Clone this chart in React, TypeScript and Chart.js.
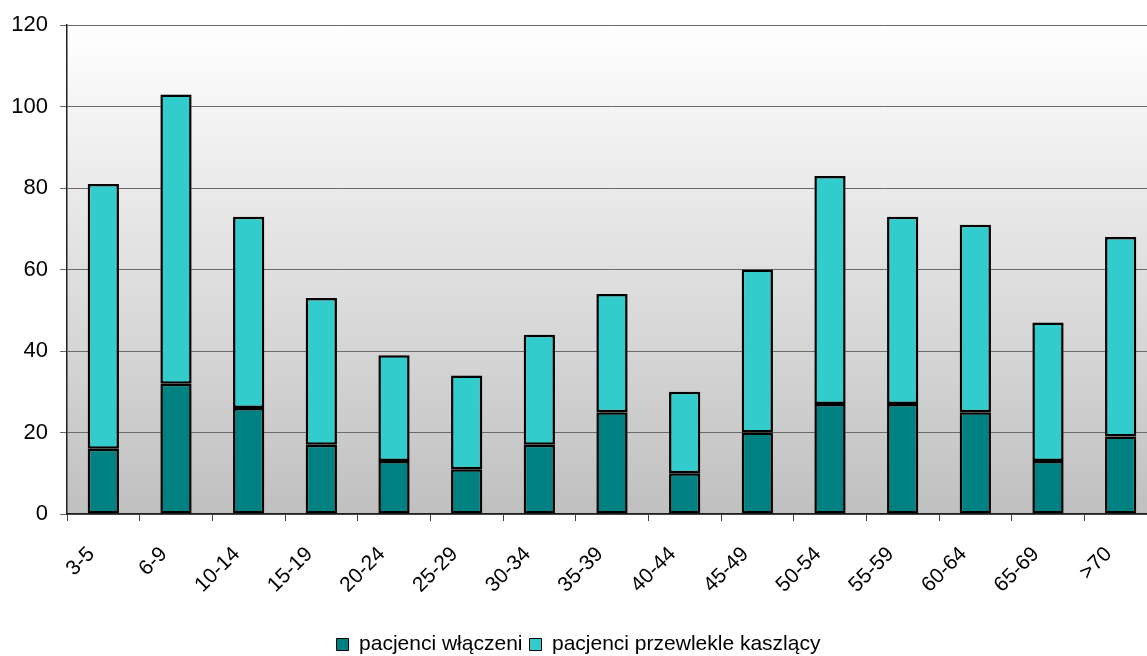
import { useEffect, useRef } from "react";
import { Chart, registerables } from "chart.js";

Chart.register(...registerables);

const categories = ["3-5", "6-9", "10-14", "15-19", "20-24", "25-29", "30-34", "35-39", "40-44", "45-49", "50-54", "55-59", "60-64", "65-69", ">70"];
const included = [16, 32, 26, 17, 13, 11, 17, 25, 10, 20, 27, 27, 25, 13, 19];
const chronic = [65, 71, 47, 36, 26, 23, 27, 29, 20, 40, 56, 46, 46, 34, 49];
const seriesNames = ["pacjenci włączeni", "pacjenci przewlekle kaszlący"];

const FONT = "'Liberation Sans', Arial, sans-serif";
const CANVAS_W = 1160;
const CANVAS_H = 665;
const PLOT_BOTTOM = 514;

const bgPlugin = {
  id: "plotBg",
  beforeDraw(chart: any) {
    const { ctx, chartArea } = chart;
    if (!chartArea) return;
    const g = ctx.createLinearGradient(0, chartArea.top, 0, chartArea.bottom);
    g.addColorStop(0, "#ffffff");
    g.addColorStop(1, "#c0c0c0");
    ctx.save();
    ctx.fillStyle = g;
    ctx.fillRect(chartArea.left, chartArea.top, chartArea.right - chartArea.left, chartArea.bottom - chartArea.top);
    ctx.restore();
  },
};

export default function App() {
  const ref = useRef<HTMLCanvasElement>(null);
  useEffect(() => {
    const canvas = ref.current!;
    const chart = new Chart(canvas, {
      type: "bar",
      data: {
        labels: categories,
        datasets: [
          {
            label: seriesNames[0],
            data: included,
            backgroundColor: "#008080",
            borderColor: "#000000",
            borderWidth: 2.5,
            borderSkipped: false,
            barPercentage: 0.43,
            categoryPercentage: 1,
          },
          {
            label: seriesNames[1],
            data: chronic,
            backgroundColor: "#33cccc",
            borderColor: "#000000",
            borderWidth: 2.5,
            borderSkipped: false,
            barPercentage: 0.43,
            categoryPercentage: 1,
          },
        ],
      },
      options: {
        responsive: false,
        animation: false,
        devicePixelRatio: 1,
        layout: { padding: { top: 15, right: 3, left: 0, bottom: 0 } },
        plugins: {
          tooltip: { enabled: false },
          legend: {
            position: "bottom",
            labels: {
              font: { family: FONT, size: 21 },
              color: "#000000",
              boxWidth: 12,
              boxHeight: 12,
              padding: 7,
              generateLabels(c: any) {
                return c.data.datasets.map((ds: any, i: number) => ({
                  text: ds.label,
                  fillStyle: ds.backgroundColor,
                  strokeStyle: "#000000",
                  lineWidth: 1,
                  hidden: false,
                  datasetIndex: i,
                  fontColor: "#000000",
                }));
              },
            },
          },
        },
        scales: {
          x: {
            stacked: true,
            offset: true,
            afterFit(scale: any) {
              const lh = scale.chart.legend ? scale.chart.legend.height : 0;
              scale.height = scale.chart.height - PLOT_BOTTOM - lh;
            },
            grid: {
              offset: true,
              drawOnChartArea: false,
              drawTicks: true,
              tickLength: 7,
              color: "#404040",
            },
            border: { color: "#202020", width: 1.5 },
            ticks: {
              font: { family: FONT, size: 21 },
              color: "#000000",
              minRotation: 45,
              maxRotation: 45,
              padding: 21,
              labelOffset: -12,
              autoSkip: false,
            },
          },
          y: {
            stacked: true,
            min: 0,
            max: 120,
            afterFit(scale: any) {
              scale.width = 67;
            },
            ticks: {
              stepSize: 20,
              font: { family: FONT, size: 22 },
              color: "#000000",
              padding: 12,
            },
            grid: {
              color: "#6a6a6a",
              lineWidth: 1,
              tickLength: 7,
            },
            border: { color: "#202020", width: 1.5 },
          },
        },
      },
      plugins: [bgPlugin],
    } as any);
    return () => chart.destroy();
  }, []);
  return (
    <div style={{ position: "fixed", left: 0, top: 0, width: 1147, height: 656, overflow: "hidden", background: "#ffffff" }}>
      <canvas ref={ref} width={CANVAS_W} height={CANVAS_H} style={{ width: CANVAS_W, height: CANVAS_H, display: "block" }} />
    </div>
  );
}
